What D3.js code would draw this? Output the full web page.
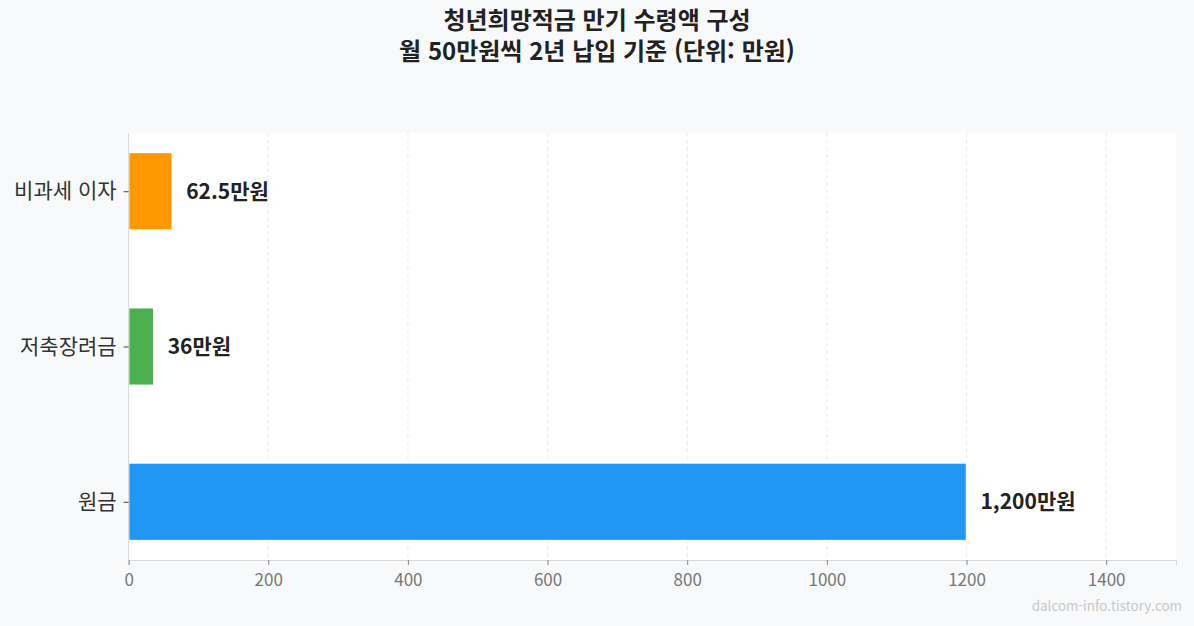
<!DOCTYPE html>
<html lang="ko">
<head>
<meta charset="UTF-8">
<title>청년희망적금 만기 수령액 구성</title>
<style>
  body { margin: 0; background: #f8f9fa; }
  svg { display: block; font-family: "Noto Sans CJK KR", "Noto Sans", sans-serif; }
</style>
</head>
<body>
<div id="chart"></div>
<script src="https://d3js.org/d3.v7.min.js"></script>
<script>
// data (단위: 만원)
const categories = ["원금", "저축장려금", "비과세 이자"];
const values = [1200, 36, 62.5];
const labels = ["1,200만원", "36만원", "62.5만원"];
const colors = ["#2196F3", "#4CAF50", "#FF9800"];
const xTicks = [0, 200, 400, 600, 800, 1000, 1200, 1400];

const width = 1194, height = 626;
const margin = { top: 133, right: 18, bottom: 66, left: 128.6 };

const svg = d3.select("#chart").append("svg")
  .attr("width", width)
  .attr("height", height);

svg.append("rect").attr("width", width).attr("height", height).attr("fill", "#f8f9fa");

const x = d3.scaleLinear().domain([0, 1500]).range([margin.left, width - margin.right]);
// category positions 0..2, matplotlib-like margins
const y = d3.scaleLinear().domain([-0.375, 2.375]).range([height - margin.bottom, margin.top]);
const barH = y(0) - y(0.5);

// plot background
svg.append("rect")
  .attr("x", x(0)).attr("y", y(2.375))
  .attr("width", x(1500) - x(0)).attr("height", y(-0.375) - y(2.375))
  .attr("fill", "#fff");

// grid
svg.append("g").selectAll("line").data(xTicks.slice(1)).join("line")
  .attr("x1", d => x(d)).attr("x2", d => x(d))
  .attr("y1", y(2.375)).attr("y2", y(-0.375))
  .attr("stroke", "#e6e6e6").attr("stroke-dasharray", "4,3").attr("stroke-width", 0.8);

// bars
svg.append("g").selectAll("rect").data(values).join("rect")
  .attr("x", x(0))
  .attr("y", (d, i) => y(i) - barH / 2)
  .attr("width", d => x(d) - x(0))
  .attr("height", barH)
  .attr("fill", (d, i) => colors[i])
  .attr("stroke", "#fff").attr("stroke-width", 1.5);

// value labels
svg.append("g").selectAll("text").data(values).join("text")
  .attr("x", d => x(d + 20))
  .attr("y", (d, i) => y(i))
  .attr("dy", "0.35em")
  .attr("font-size", 21).attr("font-weight", "bold").attr("fill", "#222")
  .text((d, i) => labels[i]);

// x axis
const xAxis = svg.append("g")
  .attr("transform", `translate(0,${y(-0.375)})`)
  .call(d3.axisBottom(x).tickValues(xTicks).tickSize(5).tickPadding(9).tickFormat(d3.format("d")));
xAxis.select(".domain").attr("stroke", "#d8d8d8");
xAxis.selectAll(".tick line").attr("stroke", "#888");
xAxis.selectAll("text").attr("font-size", 17).attr("fill", "#777").attr("font-family", "Noto Sans CJK KR");

// y axis
const yAxis = svg.append("g")
  .attr("transform", `translate(${x(0)},0)`)
  .call(d3.axisLeft(y).tickValues([0, 1, 2]).tickSize(5).tickPadding(7)
    .tickFormat(d => categories[d]));
yAxis.select(".domain").attr("stroke", "#d8d8d8").attr("d", `M0,${y(2.375)}V${y(-0.375)}`);
yAxis.selectAll(".tick line").attr("stroke", "#444");
yAxis.selectAll("text").attr("font-size", 21).attr("fill", "#333").attr("font-family", "Noto Sans CJK KR");

// title
const title = svg.append("text")
  .attr("x", width / 2).attr("y", 29)
  .attr("text-anchor", "middle")
  .attr("font-size", 24).attr("font-weight", "bold").attr("fill", "#222");
title.append("tspan").attr("x", width / 2).text("청년희망적금 만기 수령액 구성");
title.append("tspan").attr("x", width / 2).attr("dy", 31).text("월 50만원씩 2년 납입 기준 (단위: 만원)");

// watermark
svg.append("text")
  .attr("x", 1182).attr("y", 611)
  .attr("text-anchor", "end")
  .attr("font-size", 13.4).attr("fill", "#c8c8c8")
  .text("dalcom-info.tistory.com");
</script>
</body>
</html>
